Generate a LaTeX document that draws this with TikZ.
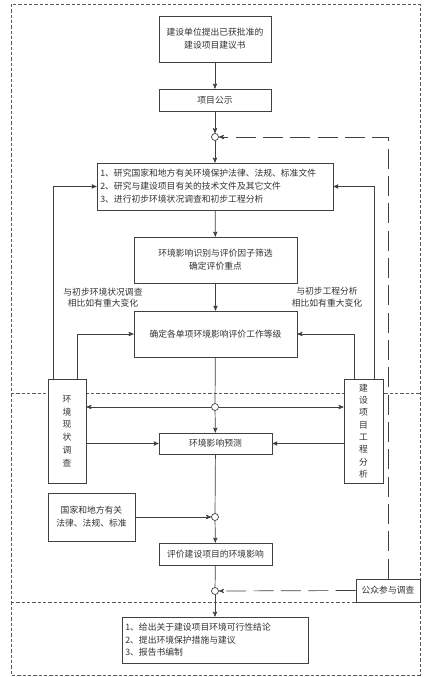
\documentclass[tikz,border=0pt]{standalone}
\usepackage{fontspec}
\newfontfamily\cjk{Noto Sans CJK SC}
\usetikzlibrary{calc,positioning,arrows}
\definecolor{linegray}{HTML}{404040}
\definecolor{framegray}{HTML}{5A5A5A}
\definecolor{textgray}{HTML}{333333}

\begin{document}
\begin{tikzpicture}[x=0.03cm,y=-0.03cm,>=stealth',
    box/.style={draw=linegray,fill=white,line width=0.6pt,text=textgray,
        font=\cjk\fontsize{7.5}{11}\selectfont,inner sep=1pt,align=center},
    listbox/.style={box,align=left,inner xsep=0.1cm},
    vbox/.style={box,font=\cjk\fontsize{7.5}{10.9}\selectfont},
    knot/.style={circle,draw=linegray,fill=white,line width=0.6pt,minimum size=0.21cm,inner sep=0pt},
    note/.style={text=textgray,font=\cjk\fontsize{7.5}{10}\selectfont,align=center,inner sep=0pt},
    conn/.style={draw=linegray,line width=0.6pt},
    frame/.style={draw=framegray,line width=0.5pt,dash pattern=on 1mm off 0.6mm},
    longdash/.style={conn,dash pattern=on 6mm off 2.2mm}]
    \useasboundingbox (0,0) rectangle (436,677);
    % stage frames
    \draw[frame] (11,4) rectangle (420,675);
    \draw[frame] (11,393) -- (420,393);
    \draw[frame] (11,602) -- (420,602);
    %
    \node[box,minimum width=3.36cm,minimum height=1.38cm] (jianyi) at (215,39) {建设单位提出已获批准的\\建设项目建议书};
    \node[box,minimum width=3.36cm,minimum height=0.66cm] (gongshi) at (215,100) {项目公示};
    \node[knot] (c1) at (215,137) {};
    \node[listbox,text width=6.88cm,minimum height=1.41cm] (yanjiu) at (215,186.5) {1、研究国家和地方有关环境保护法律、法规、标准文件\\2、研究与建设项目有关的技术文件及其它文件\\3、进行初步环境状况调查和初步工程分析};
    \node[box,minimum width=4.89cm,minimum height=1.38cm] (shibie) at (215.5,260) {环境影响识别与评价因子筛选\\确定评价重点};
    \node[box,minimum width=4.89cm,minimum height=1.38cm] (dengji) at (215.5,334) {确定各单项环境影响评价工作等级};
    \node[note] (hjbh) at (103,297.5) {与初步环境状况调查\\相比如有重大变化};
    \node[note] (gcbh) at (327,297.5) {与初步工程分析\\相比如有重大变化};
    \node[vbox,minimum width=1.14cm,minimum height=3.12cm] (xianzhuang) at (67,431) {环\\境\\现\\状\\调\\查};
    \node[vbox,minimum width=1.17cm,minimum height=3.12cm,font=\cjk\fontsize{7.5}{10.5}\selectfont] (gongcheng) at (363.5,431) {建\\设\\项\\目\\工\\程\\分\\析};
    \node[knot] (c2) at (215,407) {};
    \node[box,minimum width=3.39cm,minimum height=0.63cm] (yuce) at (215.5,443.5) {环境影响预测};
    \node[box,minimum width=2.61cm,minimum height=1.44cm] (fagui) at (91.5,517) {国家和地方有关\\法律、法规、标准};
    \node[knot] (c3) at (215,517) {};
    \node[box,minimum width=3.39cm,minimum height=0.66cm] (pingjia) at (215.5,554) {评价建设项目的环境影响};
    \node[knot] (c4) at (215,591) {};
    \node[box,minimum width=1.92cm,minimum height=0.69cm] (gongzhong) at (388,590.5) {公众参与调查};
    \node[listbox,text width=5.38cm,minimum height=1.38cm,font=\cjk\fontsize{7.5}{10.6}\selectfont] (jielun) at (215,640) {1、给出关于建设项目环境可行性结论\\2、提出环境保护措施与建议\\3、报告书编制};
    %
    \draw[conn,->] (jianyi) -- (gongshi);
    \draw[conn,->] (gongshi) -- (c1);
    \draw[conn,->] (c1) -- (yanjiu);
    \draw[conn,->] (yanjiu) -- (shibie);
    \draw[conn,->] (shibie) -- (dengji);
    \draw[conn] (dengji) -- (c2);
    \draw[conn,->] (c2) -- (yuce);
    \draw[conn] (yuce) -- (c3);
    \draw[conn,->] (c3) -- (pingjia);
    \draw[conn] (pingjia) -- (c4);
    \draw[conn,->] (c4) -- (jielun);
    \draw[conn,->] (fagui.east) -- (c3);
    % feedback from the two surveys
    \draw[conn,->] ($(xianzhuang.north west)!0.16!(xianzhuang.north east)$) |- (yanjiu.west);
    \draw[conn,->] ($(xianzhuang.north west)!0.76!(xianzhuang.north east)$) |- (dengji.west);
    \draw[conn,->] ($(gongcheng.north west)!0.77!(gongcheng.north east)$) |- (yanjiu.east);
    \draw[conn,->] ($(gongcheng.north west)!0.26!(gongcheng.north east)$) |- (dengji.east);
    \draw[conn,->] (c2) -- (c2 -| xianzhuang.east);
    \draw[conn,->] (c2) -- (c2 -| gongcheng.west);
    \draw[conn,->] (yuce.west -| xianzhuang.east) -- (yuce.west);
    \draw[conn,->] (yuce.east -| gongcheng.west) -- (yuce.east);
    % public participation
    \draw[longdash,->] (gongzhong.north) |- (c1);
    \draw[longdash,->] (gongzhong.west) -- (c4);
\end{tikzpicture}
\end{document}
